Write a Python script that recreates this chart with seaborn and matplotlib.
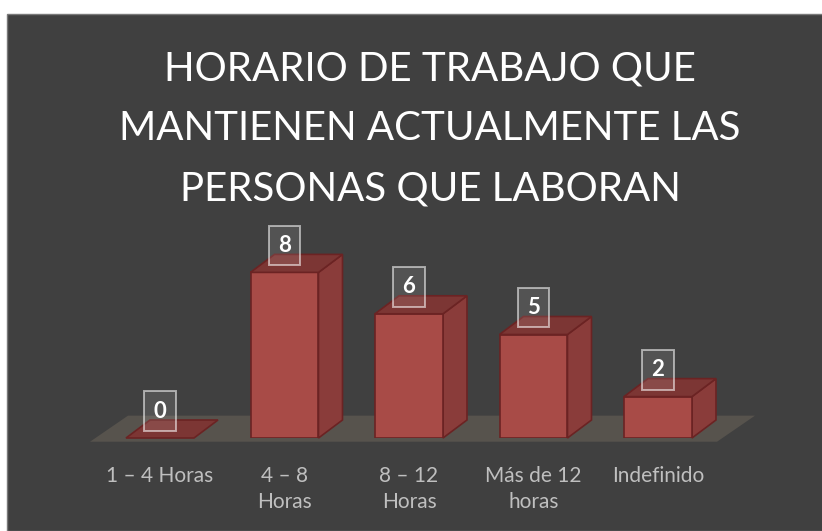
import numpy as np
import pandas as pd
import matplotlib
matplotlib.use("Agg")
import matplotlib.pyplot as plt
from matplotlib.patches import Polygon, Rectangle
import seaborn as sns

# data
categories = ["1 – 4 Horas", "4 – 8\nHoras", "8 – 12\nHoras", "Más de 12\nhoras", "Indefinido"]
values = [0, 8, 6, 5, 2]
title = "HORARIO DE TRABAJO QUE\nMANTIENEN ACTUALMENTE LAS\nPERSONAS QUE LABORAN"

bg = "#404040"
front_c = "#a84b47"
side_c = "#8a3c3a"
top_c = "#7c3634"
edge_c = "#6b2323"
floor_c = "#57534d"

sns.set_theme(style="white")
plt.rcParams['font.family'] = ['Lato', 'DejaVu Sans']

fig = plt.figure(figsize=(8.22, 5.31), dpi=100, facecolor="white")
# dark chart area
fig.patches.append(Rectangle((7 / 822, 0), 1, (531 - 14) / 531, transform=fig.transFigure,
                             facecolor=bg, edgecolor="#7a7a7a", lw=1.0, zorder=-5))

# axes placed so y=0 sits on the floor line
ax = fig.add_axes([60 / 822, 93 / 531, 720 / 822, 208 / 531])
ax.set_zorder(2)
ax.patch.set_visible(False)

df = pd.DataFrame({"cat": categories, "val": values})
sns.barplot(data=df, x="cat", y="val", color=front_c, width=0.546, saturation=1,
            edgecolor=edge_c, linewidth=1.2, ax=ax, zorder=3)

px_x = 124.5  # pixels per category
px_y = 20.7   # pixels per unit
ax.set_xlim(-100 / px_x, 620 / px_x)
ax.set_ylim(0, 208 / px_y)

# depth offsets of the 3d look
dx = 24 / px_x
dy = 18 / px_y

# floor
fx0, fx1 = -0.562, 4.474
fy0, fy1 = -0.18, 1.08
fdx = 0.305
ax.add_patch(Polygon([(fx0, fy0), (fx1, fy0), (fx1 + fdx, fy1), (fx0 + fdx, fy1)],
                     closed=True, facecolor=floor_c, edgecolor="none", zorder=1, clip_on=False))

for p, v in zip(ax.patches[:len(values)], values):
    x0 = p.get_x()
    w = p.get_width()
    h = p.get_height()
    x1 = x0 + w
    # side face
    if h > 0:
        ax.add_patch(Polygon([(x1, 0), (x1 + dx, dy), (x1 + dx, h + dy), (x1, h)],
                             closed=True, facecolor=side_c, edgecolor=edge_c, lw=1.2, zorder=2,
                             clip_on=False))
    # top face
    ax.add_patch(Polygon([(x0, h), (x1, h), (x1 + dx, h + dy), (x0 + dx, h + dy)],
                         closed=True, facecolor=top_c, edgecolor=edge_c, lw=1.2, zorder=4,
                         clip_on=False))
    # value label
    ax.text(x0 + w / 2, h + 1.3, str(v), ha="center", va="center", color="white",
            fontsize=16, fontweight="bold", zorder=6,
            bbox=dict(boxstyle="square,pad=0.42", fc=(1, 1, 1, 0.1), ec=(1, 1, 1, 0.55), lw=1.4))

sns.despine(ax=ax, left=True, bottom=True)
ax.set_xlabel("")
ax.set_ylabel("")
ax.set_yticks([])
ax.tick_params(axis="x", length=0, pad=20, labelsize=15, labelcolor="#bfbfbf")
for t in ax.get_xticklabels():
    t.set_linespacing(1.4)

fig.text(430 / 822, 402 / 531, title, ha="center", va="center", color="white",
         fontsize=29, linespacing=1.75)

fig.savefig("out.png", dpi=100, facecolor="white")
